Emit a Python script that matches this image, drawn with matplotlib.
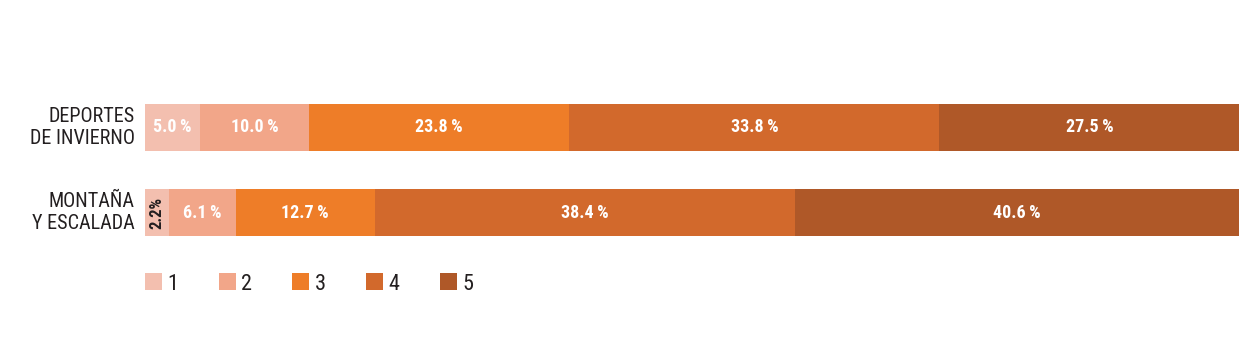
import matplotlib
matplotlib.use("Agg")
import matplotlib.pyplot as plt
from matplotlib.patches import Patch

plt.rcParams['font.family'] = ['Roboto Condensed', 'DejaVu Sans']
plt.rcParams['font.stretch'] = 'condensed'

categories = ["DEPORTES\nDE INVIERNO", "MONTAÑA\nY ESCALADA"]
levels = ["1", "2", "3", "4", "5"]
values = [
    [5.0, 10.0, 23.8, 33.8, 27.5],
    [2.2, 6.1, 12.7, 38.4, 40.6],
]
colors = ["#F3BFAF", "#F2A689", "#EE7D28", "#D2692C", "#AF5828"]

fig = plt.figure(figsize=(12.6, 3.5), dpi=100)
ax = fig.add_axes([145/1260, 1 - 236/350, (1239 - 145)/1260, 132/350])

h = 47/85
for i, row in enumerate(values):
    left = 0
    for j, v in enumerate(row):
        ax.barh(i, v, left=left, height=h, color=colors[j], edgecolor="none")
        cx = left + v/2
        if v < 4:
            ax.text(cx, i, f"{v:.1f}%", rotation=90, ha="center", va="center",
                    color="#231f20", fontsize=12, fontweight="bold")
        else:
            ax.text(cx, i, f"{v:.1f}\u2009%", ha="center", va="center",
                    color="white", fontsize=13, fontweight="bold")
        left += v

ax.set_xlim(0, sum(values[1]))
ax.set_ylim(1 + h/2, -h/2)
ax.axis("off")

for i, c in enumerate(categories):
    fig.text(135/1260, 1 - (127.5 + 85*i)/350, c, ha="right", va="center",
             fontsize=14.5, color="#231f20", linespacing=1.15)

handles = [Patch(facecolor=colors[k], edgecolor="none", label=levels[k]) for k in range(5)]
leg = fig.legend(handles=handles, loc="center left", bbox_to_anchor=(145/1260, 1 - 284/350),
                 ncol=5, frameon=False, fontsize=16, handlelength=0.77, handleheight=0.77,
                 handletextpad=0.25, columnspacing=1.8, borderpad=0, borderaxespad=0)
for t in leg.get_texts():
    t.set_color("#231f20")

fig.savefig("out.png", dpi=100)
